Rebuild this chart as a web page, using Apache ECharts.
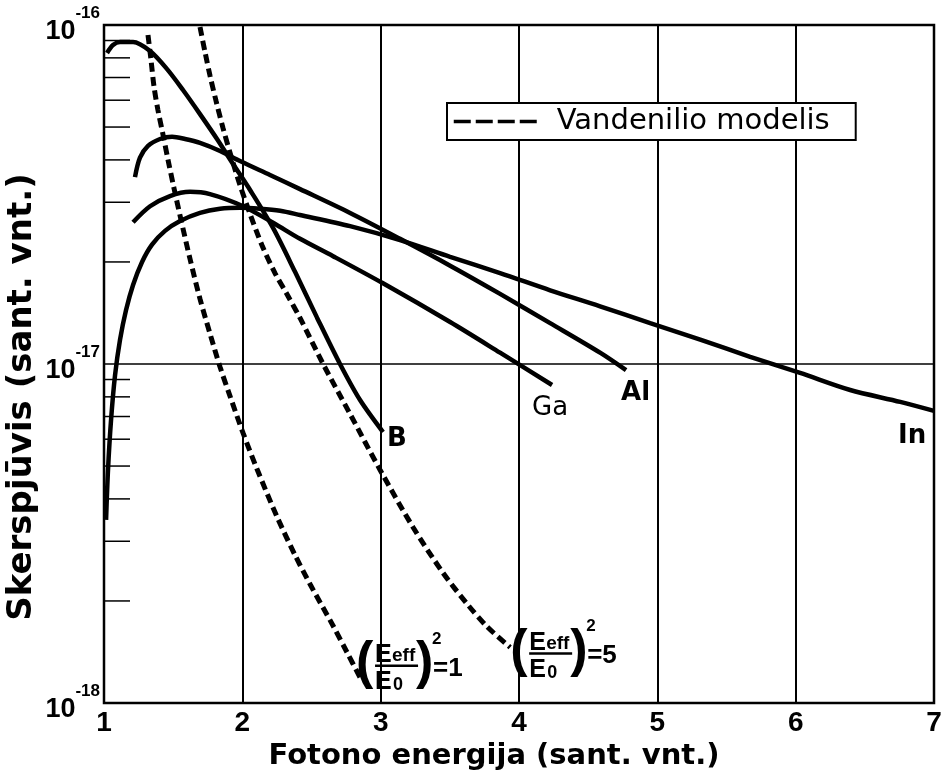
<!DOCTYPE html>
<html>
<head>
<meta charset="utf-8">
<script src="https://cdn.jsdelivr.net/npm/echarts@6/dist/echarts.min.js"></script>
<style>
html, body { margin: 0; padding: 0; background: #fff; }
#chart { width: 946px; height: 776px; }
</style>
</head>
<body>
<div id="chart"></div>
<script>
// Photon energy (arb. units) and cross-section (arb. units) for each impurity
const bX  = [1.022, 1.065, 1.116, 1.21, 1.333, 1.456, 1.571, 1.694, 1.817, 1.933, 2.056, 2.222, 2.381, 2.54, 2.706, 2.851, 3.017];
const bY  = [8.27e-17, 8.73e-17, 8.91e-17, 8.91e-17, 8.38e-17, 7.41e-17, 6.43e-17, 5.46e-17, 4.61e-17, 3.89e-17, 3.26e-17, 2.52e-17, 1.87e-17, 1.37e-17, 1.0e-17, 7.83e-18, 6.3e-18];

const alX = [1.224, 1.26, 1.318, 1.405, 1.492, 1.586, 1.694, 1.839, 1.983, 2.2, 2.417, 2.779, 3.14, 3.502, 3.863, 4.225, 4.586, 4.774];
const alY = [3.56e-17, 4.06e-17, 4.4e-17, 4.61e-17, 4.68e-17, 4.61e-17, 4.49e-17, 4.25e-17, 3.97e-17, 3.61e-17, 3.28e-17, 2.79e-17, 2.34e-17, 1.95e-17, 1.61e-17, 1.32e-17, 1.08e-17, 9.59e-18];

const gaX = [1.21, 1.333, 1.477, 1.622, 1.766, 2.005, 2.222, 2.417, 2.656, 3.017, 3.502, 3.863, 4.239];
const gaY = [2.62e-17, 2.92e-17, 3.13e-17, 3.22e-17, 3.17e-17, 2.92e-17, 2.61e-17, 2.34e-17, 2.08e-17, 1.73e-17, 1.33e-17, 1.08e-17, 8.67e-18];

const inX = [1.015, 1.029, 1.051, 1.08, 1.116, 1.159, 1.21, 1.275, 1.347, 1.441, 1.55, 1.694, 1.839, 1.983, 2.128, 2.273, 2.417, 2.779, 3.14, 3.502, 3.863, 4.225, 4.586, 4.948, 5.31, 5.671, 6.032, 6.394, 6.756, 7.0];
const inY = [3.47e-18, 4.87e-18, 6.84e-18, 9.28e-18, 1.18e-17, 1.44e-17, 1.71e-17, 2.0e-17, 2.25e-17, 2.47e-17, 2.64e-17, 2.79e-17, 2.87e-17, 2.89e-17, 2.87e-17, 2.83e-17, 2.75e-17, 2.55e-17, 2.32e-17, 2.07e-17, 1.855e-17, 1.65e-17, 1.48e-17, 1.32e-17, 1.18e-17, 1.05e-17, 9.41e-18, 8.38e-18, 7.73e-18, 7.27e-18];

// Hydrogen-like model curves, (Eeff/E0)^2 = 1 and = 5
const h1X = [1.318, 1.34, 1.362, 1.39, 1.427, 1.463, 1.506, 1.557, 1.622, 1.694, 1.767, 1.839, 1.911, 2.005, 2.106, 2.251, 2.381, 2.49, 2.656, 2.757, 2.851];
const h1Y = [9.34e-17, 7.88e-17, 6.56e-17, 5.61e-17, 4.74e-17, 4.0e-17, 3.3e-17, 2.66e-17, 2.04e-17, 1.556e-17, 1.226e-17, 9.8e-18, 8.04e-18, 6.26e-18, 4.9e-18, 3.54e-18, 2.73e-18, 2.24e-18, 1.69e-18, 1.41e-18, 1.19e-18];

const h5X = [1.694, 1.73, 1.767, 1.81, 1.86, 1.918, 1.983, 2.056, 2.142, 2.236, 2.33, 2.417, 2.584, 2.779, 2.996, 3.234, 3.451, 3.625, 3.769, 3.936];
const h5Y = [9.86e-17, 8.33e-17, 7.07e-17, 5.97e-17, 4.97e-17, 4.11e-17, 3.37e-17, 2.77e-17, 2.24e-17, 1.855e-17, 1.587e-17, 1.367e-17, 1.0e-17, 7.12e-18, 4.87e-18, 3.3e-18, 2.42e-18, 1.96e-18, 1.68e-18, 1.46e-18];

// Minor ticks on the logarithmic axis
const minorTickValues = [2e-18, 3e-18, 4e-18, 5e-18, 6e-18, 7e-18, 8e-18, 9e-18,
                         2e-17, 3e-17, 4e-17, 5e-17, 6e-17, 7e-17, 8e-17, 9e-17];

const FONT = "'Liberation Sans', Arial, sans-serif";
const WIDE = "'DejaVu Sans', sans-serif";
const LEGEND_NAME = 'Vandenilio modelis';

const zip = (xs, ys) => xs.map((x, i) => [x, ys[i]]);

function solid(name, xs, ys, offset, weight) {
  return {
    name, type: 'line', data: zip(xs, ys), smooth: 0.3, symbol: 'none',
    color: '#000', lineStyle: { color: '#000', width: 4.5 }, z: 5,
    endLabel: {
      show: true, formatter: name, offset, distance: 4,
      fontFamily: WIDE, fontSize: 26, fontWeight: weight, color: '#000'
    }
  };
}
function dashed(xs, ys) {
  return {
    name: LEGEND_NAME, type: 'line', data: zip(xs, ys), smooth: 0.3, symbol: 'none',
    color: '#000', lineStyle: { color: '#000', width: 5, type: [9, 5] }, z: 4
  };
}

const chart = echarts.init(document.getElementById('chart'), null, { renderer: 'canvas' });

const option = {
  animation: false,
  backgroundColor: '#fff',
  grid: {
    left: 104, right: 12, top: 25, bottom: 73, outerBoundsMode: 'none', containLabel: false,
    show: true, borderColor: '#000', borderWidth: 2.5, backgroundColor: 'transparent'
  },
  legend: {
    data: [LEGEND_NAME], left: 447, top: 103,
    itemWidth: 86, itemHeight: 14,
    padding: [4, 26, 4, 5],
    backgroundColor: '#fff',
    borderColor: '#000', borderWidth: 2,
    lineStyle: { type: [17, 5], width: 3.5, color: '#000' },
    itemStyle: { opacity: 0 },
    textStyle: { fontFamily: WIDE, fontSize: 29, color: '#000', padding: [0, 0, 0, 12] },
    selectedMode: false
  },
  xAxis: {
    type: 'value', min: 1, max: 7, interval: 1,
    axisLine: { show: false }, axisTick: { show: false },
    splitLine: { show: true, lineStyle: { color: '#000', width: 2 } },
    axisLabel: { fontFamily: FONT, fontSize: 28, fontWeight: 'bold', color: '#000', margin: 6 },
    name: 'Fotono energija (sant. vnt.)', nameLocation: 'middle', nameGap: 33,
    nameTextStyle: { fontFamily: WIDE, fontSize: 29, fontWeight: 'bold', color: '#000', padding: [0, 50, 0, 0] }
  },
  yAxis: {
    type: 'log', logBase: 10, min: 1e-18, max: 1e-16,
    axisLine: { show: false }, axisTick: { show: false },
    splitLine: { show: true, lineStyle: { color: '#000', width: 1.5 } },
    axisLabel: {
      margin: 4,
      formatter: v => '{b|10}{s|' + Math.round(Math.log10(v)) + '}',
      rich: {
        b: { fontFamily: FONT, fontSize: 27, fontWeight: 'bold', color: '#000', verticalAlign: 'bottom', padding: [14, 0, 0, 0] },
        s: { fontFamily: FONT, fontSize: 17, fontWeight: 'bold', color: '#000', verticalAlign: 'top' }
      }
    },
    name: 'Skerspjūvis (sant. vnt.)', nameLocation: 'middle', nameGap: 65, nameMoveOverlap: false,
    nameTextStyle: { fontFamily: WIDE, fontSize: 34, fontWeight: 'bold', color: '#000', padding: [0, 66, 0, 0] }
  },
  series: [
    {
      type: 'custom', coordinateSystem: 'cartesian2d', silent: true, z: 3,
      data: minorTickValues.map(v => [1, v]),
      renderItem: (params, api) => {
        const p = api.coord([api.value(0), api.value(1)]);
        return { type: 'line', shape: { x1: p[0], y1: p[1], x2: p[0] + 26, y2: p[1] },
                 style: { stroke: '#000', lineWidth: 1.5 } };
      }
    },
    solid('B', bX, bY, [0, 7], 'bold'),
    solid('Ga', gaX, gaY, [-24, 23], 'normal'),
    solid('Al', alX, alY, [-9, 23], 'bold'),
    solid('In', inX, inY, [-40, 25], 'bold'),
    dashed(h1X, h1Y),
    dashed(h5X, h5Y)
  ]
};
chart.setOption(option);

// (Eeff/E0)^2 = k annotation, anchored at the end of a model curve
function formula(anchor, dx, dy, rhs) {
  const t = (text, x, y, size) => ({
    type: 'text', x, y,
    style: { text, fontFamily: FONT, fontSize: size, fontWeight: 'bold', fill: '#000', verticalAlign: 'top' }
  });
  return {
    type: 'group', x: anchor[0] + dx, y: anchor[1] + dy,
    children: [
      t('(', -2, -5, 52),
      t('E', 17, 0, 25), t('eff', 34, 4, 19),
      { type: 'rect', shape: { x: 17, y: 22, width: 43, height: 2.5 }, style: { fill: '#000' } },
      t('E', 17, 27, 25), t('0', 35, 34, 18),
      t(')', 58, -5, 52),
      t('2', 74, -12, 17),
      t(rhs, 75, 13, 26)
    ]
  };
}
const end1 = chart.convertToPixel({ seriesIndex: 5 }, [h1X[h1X.length - 1], h1Y[h1Y.length - 1]]);
const end5 = chart.convertToPixel({ seriesIndex: 6 }, [h5X[h5X.length - 1], h5Y[h5Y.length - 1]]);
chart.setOption({
  graphic: [
    formula(end1, -2, -35, '=1'),
    formula(end5, 2, -17, '=5')
  ]
});
</script>
</body>
</html>
